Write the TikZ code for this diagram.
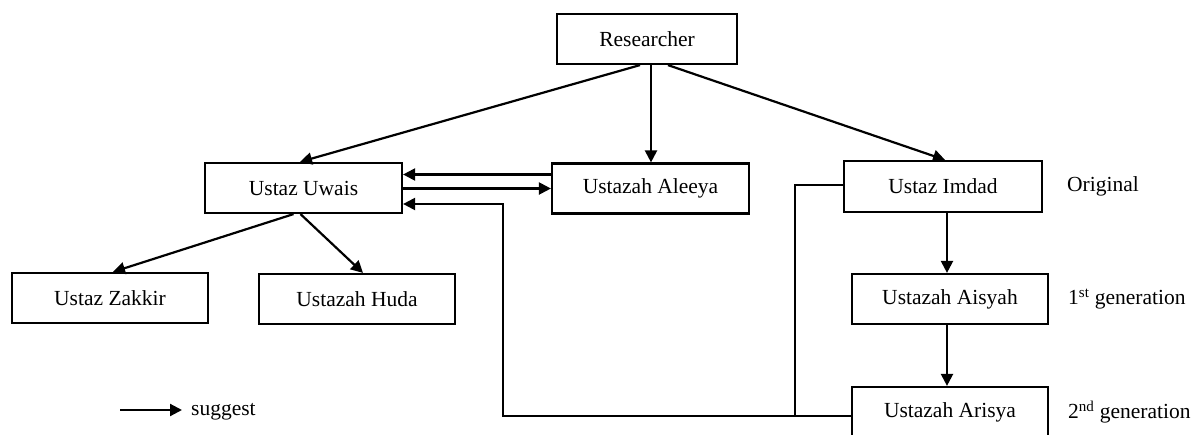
\documentclass[tikz,border=0pt]{standalone}
\usepackage{fontspec}
\setmainfont{Liberation Serif}
\usetikzlibrary{arrows.meta,calc}
\begin{document}
\begin{tikzpicture}[x=1pt,y=-1pt,
  box/.style={draw,line width=2.2pt,minimum height=50pt,inner sep=0pt,font=\fontsize{21.5}{25}\selectfont},
  lbl/.style={anchor=west,inner sep=0pt,font=\fontsize{21.5}{25}\selectfont},
  arr/.style={line width=2.2pt,-{Triangle[length=12pt,width=12pt]}},
  ln/.style={line width=2.2pt}]
\useasboundingbox (0,0) rectangle (1202,434);
\clip (0,0) rectangle (1202,434);
\fill[white] (0,0) rectangle (1202,434);
\node[box,minimum width=180pt] (res) at (647,39) {Researcher};
\node[box,minimum width=197pt] (uwais) at (303.5,188) {Ustaz Uwais};
\node[box,minimum width=197pt] (aleeya) at (650.5,188.5) {Ustazah Aleeya};
\node[box,minimum width=198pt,minimum height=51pt] (imdad) at (943,186.5) {Ustaz Imdad};
\node[box,minimum width=196pt] (aisyah) at (950,299) {Ustazah Aisyah};
\node[box,minimum width=196pt] (arisya) at (950,412) {Ustazah Arisya};
\node[box,minimum width=196pt] (zakkir) at (110,298) {Ustaz Zakkir};
\node[box,minimum width=196pt] (huda) at (357,299) {Ustazah Huda};
\node[lbl] (orig) at (1067,186) {Original};
\node[lbl] (gen1) at (1068,299) {1\textsuperscript{st} generation};
\node[lbl] (gen2) at (1068,412) {2\textsuperscript{nd} generation};
\coordinate (lg1) at (120,410);
\coordinate (lg2) at (182,410);
\node[lbl] (lgt) at (191,412) {suggest};
\draw[arr] (lg1) -- (lg2);
% researcher arrows
\draw[arr] ([xshift=-7pt]res.south) -- ([xshift=-3.5pt]uwais.north);
\draw[arr] ([xshift=4pt]res.south) -- ([xshift=4pt]res.south |- aleeya.north);
\draw[arr] ([xshift=21pt]res.south) -- ([xshift=2pt]imdad.north);
% between Uwais and Aleeya
\draw[arr] ([yshift=14pt]aleeya.west) -- ([yshift=14pt]aleeya.west -| uwais.east);
\draw[arr] (uwais.east |- aleeya.west) -- (aleeya.west);
% Uwais children
\draw[arr] ([xshift=-10pt]uwais.south) -- ([xshift=3pt]zakkir.north);
\draw[arr] ([xshift=-3pt]uwais.south) -- ([xshift=6pt]huda.north);
% generation chain
\draw[arr] ([xshift=4pt]imdad.south) -- ([xshift=4pt]imdad.south |- aisyah.north);
\draw[arr] ([xshift=-3pt]aisyah.south) -- ([xshift=-3pt]arisya.north);
% feedback lines
\coordinate (jA) at (503,416);
\coordinate (jB) at (795,416);
\draw[arr] ([yshift=-4pt]arisya.west) -- (jA) -- (jA |- 0,204) -- (uwais.east |- 0,204);
\draw[ln] ([yshift=1.5pt]imdad.west) -- (795,185) -- (jB);
\end{tikzpicture}
\end{document}
